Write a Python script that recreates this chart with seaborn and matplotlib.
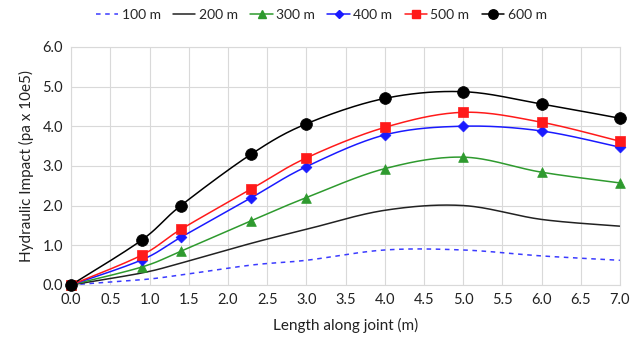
import numpy as np
import pandas as pd
import matplotlib
matplotlib.use("Agg")
import matplotlib.pyplot as plt
from matplotlib.lines import Line2D
import seaborn as sns

x_len = [0.0, 0.9, 1.4, 2.3, 3.0, 4.0, 5.0, 6.0, 7.0]
d100 = [0.0, 0.13, 0.25, 0.50, 0.62, 0.88, 0.88, 0.73, 0.62]
d200 = [0.0, 0.30, 0.55, 1.05, 1.40, 1.88, 2.00, 1.65, 1.48]
d300 = [0.0, 0.45, 0.85, 1.62, 2.20, 2.93, 3.22, 2.84, 2.57]
d400 = [0.0, 0.63, 1.20, 2.20, 2.98, 3.78, 4.00, 3.88, 3.47]
d500 = [0.0, 0.75, 1.40, 2.42, 3.20, 3.97, 4.35, 4.10, 3.62]
d600 = [0.0, 1.13, 2.00, 3.30, 4.06, 4.70, 4.87, 4.56, 4.20]
labels = ["100 m", "200 m", "300 m", "400 m", "500 m", "600 m"]
series = [d100, d200, d300, d400, d500, d600]

styles = {
    "100 m": dict(color="#3b3bff", ls=(0, (3, 3)), marker=None, ms=0),
    "200 m": dict(color="#222222", ls="-", marker=None, ms=0),
    "300 m": dict(color="#2e9a2e", ls="-", marker="^", ms=7),
    "400 m": dict(color="#1a1aff", ls="-", marker="D", ms=5.5),
    "500 m": dict(color="#ff1a1a", ls="-", marker="s", ms=7),
    "600 m": dict(color="#000000", ls="-", marker="o", ms=8.5),
}


def smooth(xs, ys, n=30):
    # excel-style smoothed line (bezier with 1/6 tangent handles)
    p = np.column_stack([xs, ys]).astype(float)
    p = np.vstack([p[0], p, p[-1]])
    out = []
    t = np.linspace(0, 1, n)[:, None]
    for i in range(1, len(p) - 2):
        p0, p1 = p[i], p[i + 1]
        c1 = p0 + (p[i + 1] - p[i - 1]) / 6
        c2 = p1 - (p[i + 2] - p[i]) / 6
        seg = (1 - t) ** 3 * p0 + 3 * (1 - t) ** 2 * t * c1 + 3 * (1 - t) * t ** 2 * c2 + t ** 3 * p1
        out.append(seg if i == 1 else seg[1:])
    out = np.vstack(out)
    return out[:, 0], out[:, 1]


sns.set_style("white")
plt.rcParams["font.family"] = ["Lato", "DejaVu Sans"]

fig = plt.figure(figsize=(6.3, 3.47), dpi=100)
ax = fig.add_axes([0.113, 0.179, 0.871, 0.686])

handles = []
for lab, ys in zip(labels, series):
    st = styles[lab]
    sx, sy = smooth(x_len, ys)
    sm = pd.DataFrame({"x": sx, "y": sy})
    sns.lineplot(data=sm, x="x", y="y", sort=False, estimator=None, ax=ax,
                 color=st["color"], linestyle=st["ls"], linewidth=1.1)
    if st["marker"]:
        pts = pd.DataFrame({"x": x_len, "y": ys})
        sns.scatterplot(data=pts, x="x", y="y", ax=ax, marker=st["marker"],
                        color=st["color"], s=st["ms"] ** 2, edgecolor=st["color"],
                        linewidth=0.5, zorder=5, clip_on=False)
    handles.append(Line2D([], [], color=st["color"], linestyle=st["ls"], linewidth=1.1,
                          marker=st["marker"], markersize=st["ms"] * 0.8))

ax.set_xlim(0, 7)
ax.set_ylim(0, 6)
ax.set_xticks(np.arange(0, 7.01, 0.5))
ax.set_yticks(np.arange(0, 6.01, 1.0))
ax.set_xticklabels([f"{v:.1f}" for v in np.arange(0, 7.01, 0.5)])
ax.set_yticklabels([f"{v:.1f}" for v in np.arange(0, 6.01, 1.0)])
ax.grid(True, color="#d9d9d9", linewidth=0.8)
for s in ax.spines.values():
    s.set_color("#d9d9d9")
    s.set_linewidth(0.8)
ax.tick_params(length=0, labelsize=10.5, pad=6, colors="#222222")
ax.set_xlabel("Length along joint (m)", fontsize=11, labelpad=8, color="#222222")
ax.set_ylabel("Hydraulic Impact (pa x 10e5)", fontsize=11, labelpad=6, color="#222222")

fig.legend(handles=handles, labels=labels, loc="upper center", bbox_to_anchor=(0.51, 1.01),
           ncol=6, frameon=False, fontsize=10, handlelength=1.6, handletextpad=0.25,
           columnspacing=0.9)

fig.savefig("out.png", dpi=100)
